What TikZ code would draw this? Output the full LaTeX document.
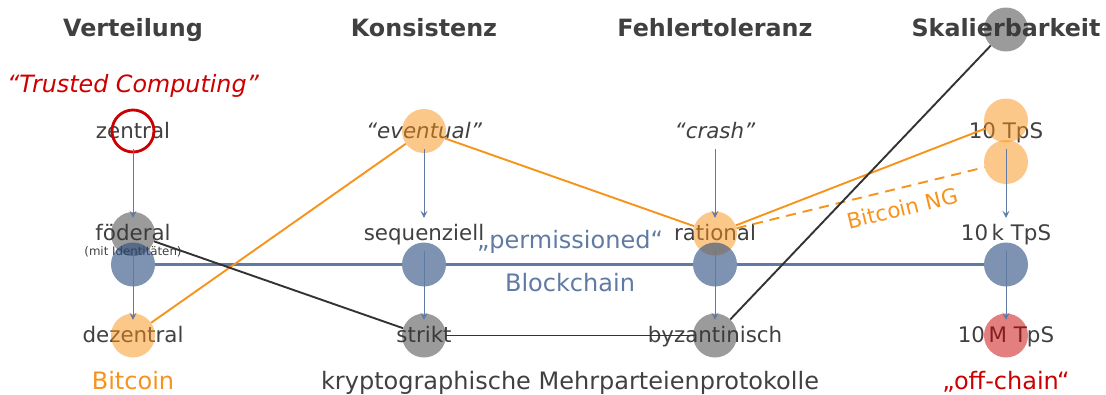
\documentclass[tikz,border=0pt]{standalone}
\usepackage{fontspec}
\setmainfont{DejaVu Sans}
\usetikzlibrary{arrows.meta}

\definecolor{ink}{HTML}{404040}
\definecolor{blueC}{HTML}{5F7BA3}
\definecolor{orangeC}{HTML}{F7931A}
\definecolor{redC}{HTML}{CC0000}
\definecolor{darkC}{HTML}{333333}
\definecolor{orangeF}{HTML}{F99115}
\definecolor{grayF}{HTML}{373737}
\definecolor{blueF}{HTML}{284B7D}
\definecolor{redF}{HTML}{C80000}

\begin{document}
\begin{tikzpicture}[x=1pt,y=-1pt,
  lbl/.style={font=\fontsize{21.4}{24}\selectfont, text=ink, anchor=base,
    inner xsep=0pt, inner ysep=6pt, text height=16pt, text depth=5pt},
  head/.style={font=\fontsize{23.8}{26}\selectfont\bfseries, text=ink, anchor=base, inner sep=0pt},
  big/.style={font=\fontsize{24}{26}\selectfont, anchor=base, inner sep=0pt},
  tiny/.style={font=\fontsize{11.8}{13}\selectfont, text=ink, anchor=base, inner sep=0pt},
  dot/.style={circle, minimum size=44pt, inner sep=0pt, draw=none},
  odot/.style={dot, fill=orangeF, fill opacity=0.5},
  gdot/.style={dot, fill=grayF, fill opacity=0.5},
  bdot/.style={dot, fill=blueF, fill opacity=0.6},
  rdot/.style={dot, fill=redF, fill opacity=0.5},
  ring/.style={circle, minimum size=42pt, inner sep=0pt, draw=redC, line width=2.8pt},
  oline/.style={draw=orangeC, line width=1.9pt},
  dline/.style={draw=darkC, line width=1.9pt},
  bline/.style={draw=blueC, line width=3.4pt},
  flow/.style={draw=blueC, line width=0.9pt, -{Stealth[length=7pt,width=7pt,inset=3pt]}}
]
\useasboundingbox (0,0) rectangle (1106,394);

% column headers
\node[head] (hVert) at (133,36) {Verteilung};
\node[head] (hKons) at (424,36) {Konsistenz};
\node[head] (hFehl) at (715,36) {Fehlertoleranz};
\node[head] (hSkal) at (1006,36) {Skalierbarkeit};

\node[big, text=redC, font=\fontsize{23.8}{26}\selectfont\itshape] (tc) at (133,92) {“Trusted Computing”};

% level labels
\node[lbl] (zentral) at (133,138) {zentral};
\node[lbl] (foederal) at (133,240) {föderal};
\node[tiny] (ident) at (133,255) {(mit Identitäten)};
\node[lbl] (dezentral) at (133,342) {dezentral};

\node[lbl, font=\fontsize{21.4}{24}\selectfont\itshape] (eventual) at (424,138) {“eventual”};
\node[lbl] (sequenziell) at (424,240) {sequenziell};
\node[lbl] (strikt) at (424,342) {strikt};

\node[lbl, font=\fontsize{21.4}{24}\selectfont\itshape] (crash) at (715,138) {“crash”};
\node[lbl] (rational) at (715,240) {rational};
\node[lbl] (byz) at (715,342) {byzantinisch};

\node[lbl] (tps1) at (1006,138) {10 TpS};
\node[lbl] (tps2) at (1006,240) {10\,k TpS};
\node[lbl] (tps3) at (1006,342) {10\,M TpS};

% group labels
\node[big, text=blueC] (perm) at (570,248) {„permissioned“};
\node[big, text=blueC] (bc) at (570,291) {Blockchain};
\node[big, text=orangeC] (btc) at (133,389) {Bitcoin};
\node[big, text=ink] (mpc) at (570,389) {kryptographische Mehrparteienprotokolle};
\node[big, text=redC] (offc) at (1006,389) {„off-chain“};

% markers
\node[ring] (zR) at (133,131) {};
\node[gdot] (skG) at (1006,29.5) {};
\node[odot] (evO) at (424,131) {};
\node[odot] (tpsO) at (1006,120.5) {};
\node[odot] (ngO) at (1006,162) {};
\node[gdot] (feG) at (133,234) {};
\node[odot] (raO) at (715,233.5) {};
\node[bdot] (b1) at (133,264.5) {};
\node[bdot] (b2) at (424,264.5) {};
\node[bdot] (b3) at (715,264.5) {};
\node[bdot] (b4) at (1006,264.5) {};
\node[odot] (dzO) at (133,335.5) {};
\node[gdot] (stG) at (424,335.5) {};
\node[gdot] (byG) at (715,335.5) {};
\node[rdot] (mR) at (1006,335.5) {};

% connections
\draw[bline] (b1) -- (b2) -- (b3) -- (b4);
\draw[oline] (dzO) -- (evO);
\draw[oline] (evO) -- (raO);
\draw[oline] (raO) -- (tpsO);
\draw[oline, dash pattern=on 10pt off 7pt] (raO) -- (ngO)
  node[pos=0.65, sloped, below=11pt, inner sep=0pt, text=orangeC,
       font=\fontsize{21.4}{24}\selectfont] (ngl) {Bitcoin NG};
\draw[dline] (feG) -- (stG);
\draw[dline] (stG) -- (byG);
\draw[dline] (byG) -- (skG);

% refinement arrows
\draw[flow] (zentral.south) -- (foederal.north);
\draw[flow] (foederal.south) -- (dezentral.north);
\draw[flow] (eventual.south) -- (sequenziell.north);
\draw[flow] (sequenziell.south) -- (strikt.north);
\draw[flow] (crash.south) -- (rational.north);
\draw[flow] (rational.south) -- (byz.north);
\draw[flow] (tps1.south) -- (tps2.north);
\draw[flow] (tps2.south) -- (tps3.north);
\end{tikzpicture}
\end{document}
